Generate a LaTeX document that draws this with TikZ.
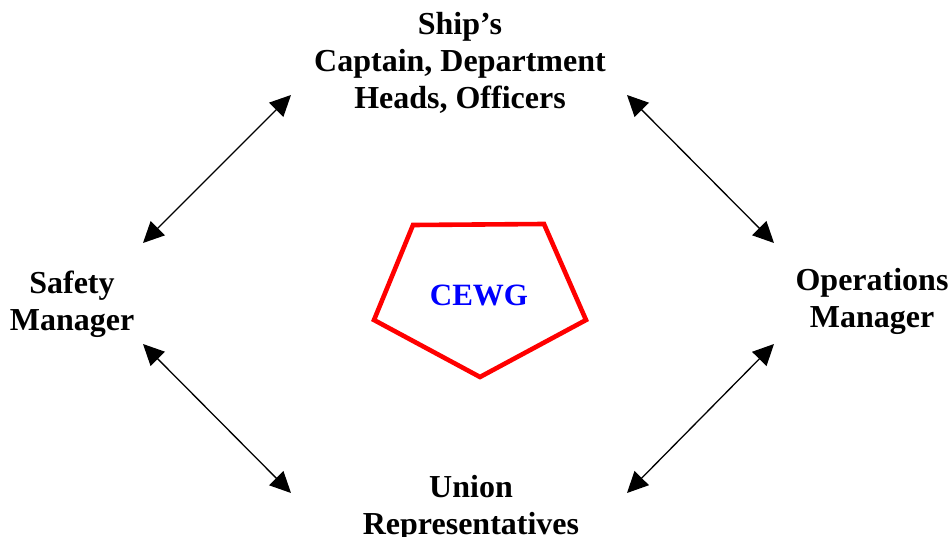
\documentclass[tikz,border=0pt]{standalone}
\usepackage{fontspec}
\setmainfont{Liberation Serif}
\usetikzlibrary{arrows.meta}

\begin{document}
\begin{tikzpicture}[
            x = 1pt, y = -1pt, % work in pixel-like units, y downwards
            > = {Triangle[length=21pt,width=20pt]}, % arrow head style
            role/.style = {align=center, inner sep=0pt,
                font=\fontsize{32}{37}\selectfont\bfseries},
            link/.style = {<->, line width=1.3pt},
            group/.style = {draw=red, line width=4.6pt, line join=miter}
        ]

	\useasboundingbox (0,0) rectangle (952,537);

	% the four parties
	\node[role] (ship) at (460,63) {Ship’s\\Captain, Department\\Heads, Officers};
	\node[role] (safety) at (72,304) {Safety\\Manager};
	\node[role] (ops) at (872,301) {Operations\\Manager};
	\node[role] (union) at (471,508) {Union\\Representatives};

	% the working group in the middle
	\coordinate (p1) at (413,225);
	\coordinate (p2) at (544,224);
	\coordinate (p3) at (586,320);
	\coordinate (p4) at (480,377);
	\coordinate (p5) at (374,320);
	\draw[group] (p1) -- (p2) -- (p3) -- (p4) -- (p5) -- cycle;
	\node[role, text=blue, font=\fontsize{31}{36}\selectfont\bfseries] (cewg) at (479,295) {CEWG};

	% arrow ends
	\coordinate (ship-w) at (291,95);
	\coordinate (ship-e) at (627,95);
	\coordinate (safety-n) at (143,243);
	\coordinate (safety-s) at (143,344);
	\coordinate (ops-n) at (774,243);
	\coordinate (ops-s) at (774,344);
	\coordinate (union-w) at (291,493);
	\coordinate (union-e) at (627,493);

	\draw[link] (safety-n) -- (ship-w);
	\draw[link] (ship-e) -- (ops-n);
	\draw[link] (safety-s) -- (union-w);
	\draw[link] (union-e) -- (ops-s);

\end{tikzpicture}
\end{document}
